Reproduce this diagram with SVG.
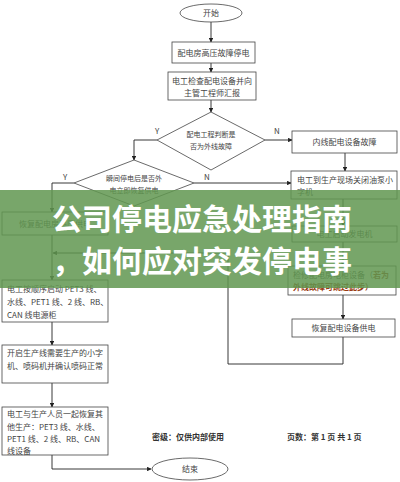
<svg xmlns="http://www.w3.org/2000/svg" width="400" height="482" viewBox="0 0 400 482">
<style>
.bx{fill:#fff;stroke:#444;stroke-width:0.8}
.t{font-family:"Noto Sans CJK SC",sans-serif;font-size:8px;fill:#444}
.c{text-anchor:middle}
.d{font-size:7px}
.r{fill:#9a3b12;font-weight:bold}
.ln{fill:none;stroke:#222;stroke-width:0.9}
.ban{font-family:"Noto Sans CJK SC",sans-serif;font-size:30px;font-weight:bold;fill:#fff}
.ft{font-family:"Noto Sans CJK SC",sans-serif;font-size:8px;font-weight:bold;fill:#333}
</style>
<defs>
<marker id="a" viewBox="0 0 8 8" refX="7" refY="4" markerWidth="5" markerHeight="5" orient="auto"><path d="M0,0 L8,4 L0,8 z" fill="#222"/></marker>
</defs>
<rect width="400" height="482" fill="#fff"/>
<g id="connectors">
<path class="ln" d="M211,22 V42" marker-end="url(#a)"/>
<path class="ln" d="M211,63 V72" marker-end="url(#a)"/>
<path class="ln" d="M211,100 V112" marker-end="url(#a)"/>
<path class="ln" d="M265,140 H292" marker-end="url(#a)"/>
<path class="ln" d="M345,153 V171" marker-end="url(#a)"/>
<path class="ln" d="M343,199 V226" marker-end="url(#a)"/>
<path class="ln" d="M343,242 V266" marker-end="url(#a)"/>
<path class="ln" d="M343,295 V319" marker-end="url(#a)"/>
<path class="ln" d="M343,337 V364 H228 V253 H53" marker-end="url(#a)"/>
<path class="ln" d="M157,140 H134 V160" marker-end="url(#a)"/>
<path class="ln" d="M194,183 H291" marker-end="url(#a)"/>
<path class="ln" d="M74,183 H52 V212" marker-end="url(#a)"/>
<path class="ln" d="M52,235 V280" marker-end="url(#a)"/>
<path class="ln" d="M52,322 V345" marker-end="url(#a)"/>
<path class="ln" d="M52,383 V407" marker-end="url(#a)"/>
<path class="ln" d="M52,455 V469 H151" marker-end="url(#a)"/>
<text class="t c" x="157" y="134">Y</text>
<text class="t c" x="277" y="134">N</text>
<text class="t c" x="65" y="180">Y</text>
<text class="t c" x="207" y="180">N</text>
</g>
<g id="start"><ellipse class="bx" cx="211" cy="13" rx="31" ry="9"/><text class="t c" x="211" y="16">开始</text></g>
<g id="n1"><rect class="bx" x="172" y="42" width="83" height="21" stroke="#999"/><text class="t c" x="213.5" y="55.5">配电房高压故障停电</text></g>
<g id="n2"><rect class="bx" x="168" y="72" width="88" height="28"/><text class="t c" x="212" y="84">电工检查配电设备并向</text><text class="t c" x="212" y="96">主管工程师汇报</text></g>
<g id="d1"><path class="bx" d="M211,112 L265,140 L211,170 L157,140 Z"/><text class="t c d" x="211" y="137">配电工程判断是</text><text class="t c d" x="211" y="149">否为外线故障</text></g>
<g id="n3"><rect class="bx" x="292" y="131" width="105" height="22"/><text class="t c" x="344.5" y="145">内线配电设备故障</text></g>
<g id="n4"><rect class="bx" x="291" y="171" width="106" height="28"/><text class="t" x="297" y="183">电工到生产现场关闭油泵小</text><text class="t" x="297" y="195">字机</text></g>
<g id="n5"><rect class="bx" x="292" y="226" width="105" height="16"/><text class="t c" x="344.5" y="237">电工启动发电机</text></g>
<g id="n6"><rect class="bx" x="288" y="266" width="108" height="29"/><text class="t" x="293" y="278">检修配电房电柜设备（<tspan class="r">若为</tspan></text><text class="t r" x="293" y="290">外线故障可跳过此步）</text></g>
<g id="n7"><rect class="bx" x="292" y="319" width="103" height="18"/><text class="t c" x="343.5" y="331">恢复配电设备供电</text></g>
<g id="d2"><path class="bx" d="M134,160 L194,183 L134,206 L74,183 Z"/><text class="t c d" x="134" y="181">瞬间停电后是否外</text><text class="t c d" x="134" y="193">电立即恢复供电</text></g>
<g id="n8"><rect class="bx" x="2" y="212" width="106" height="23"/><text class="t c" x="55" y="227">恢复配电房高压供电</text></g>
<g id="n9"><rect class="bx" x="2" y="280" width="106" height="42"/><text class="t" x="7" y="292">电工按顺序启动 PET3 线、</text><text class="t" x="7" y="305">水线、PET1 线、2 线、RB、</text><text class="t" x="7" y="318">CAN 线电源柜</text></g>
<g id="n10"><rect class="bx" x="2" y="345" width="106" height="38"/><text class="t" x="7" y="356">开启生产线需要生产的小字</text><text class="t" x="7" y="369">机、喷码机并确认喷码正常</text></g>
<g id="n11"><rect class="bx" x="2" y="407" width="106" height="48"/><text class="t" x="7" y="417">电工与生产人员一起恢复其</text><text class="t" x="7" y="430">他生产：PET3 线、水线、</text><text class="t" x="7" y="442">PET1 线、2 线、RB、CAN</text><text class="t" x="7" y="454">线设备</text></g>
<g id="end"><ellipse class="bx" cx="190" cy="469" rx="38" ry="11"/><text class="t c" x="190" y="472">结束</text></g>
<g id="footer"><text class="ft" x="152" y="440">密级：仅供内部使用</text><text class="ft" x="287" y="440">页数：第 1 页 共 1 页</text></g>
<g id="banner">
<rect x="0" y="190" width="400" height="98" fill="rgb(96,150,80)" fill-opacity="0.85"/>
<text class="ban" x="52" y="230">公司停电应急处理指南</text>
<text class="ban" x="52" y="272">，如何应对突发停电事</text>
</g>
</svg>
